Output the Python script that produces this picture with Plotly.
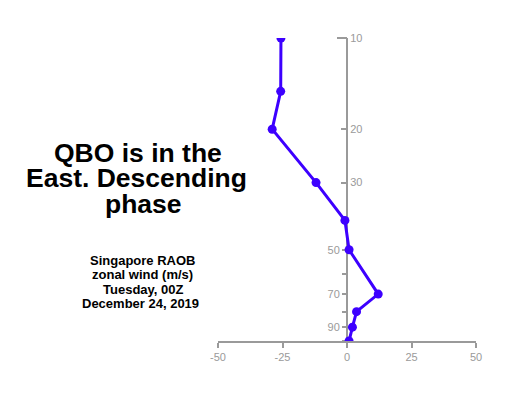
import plotly.graph_objects as go

# Data
pressure_hpa = [10, 15, 20, 30, 40, 50, 70, 80, 90, 100]
zonal_wind = [-25.6, -25.7, -29.0, -12.0, -0.8, 0.8, 12.1, 3.7, 2.1, 0.8]

x_ticks = [-50, -25, 0, 25, 50]
x_tick_text = ["-50", "-25", "0", "25", "50"]
y_ticks_right = [10, 20, 30]
y_ticks_left = [40, 50, 60, 70, 80, 90, 100]
y_ticks_left_text = ["", "50", "", "70", "", "90", ""]

title_lines = ["QBO is in the", "East. Descending", "phase"]
subtitle_lines = ["Singapore RAOB", "zonal wind (m/s)", "Tuesday, 00Z", "December 24, 2019"]

GREY = "#9a9a9a"
LINE = "#3d00ff"
FONT = "Liberation Sans, Arial, Helvetica, sans-serif"

fig = go.Figure()
fig.add_trace(go.Scatter(
    x=zonal_wind, y=pressure_hpa, mode="lines+markers",
    line=dict(color=LINE, width=3),
    marker=dict(color=LINE, size=9),
    cliponaxis=True, showlegend=False, hoverinfo="x+y",
))

yrange = [2, 1]  # log10(100) bottom, log10(10) top
common_y = dict(type="log", range=yrange, anchor="free", position=0.5,
                showgrid=False, zeroline=False, automargin=False,
                layer="below traces",
                tickfont=dict(size=11, color=GREY, family=FONT),
                tickcolor=GREY, tickwidth=2)

fig.update_layout(
    width=507, height=399,
    margin=dict(l=210, r=39, t=30, b=66, autoexpand=False),
    paper_bgcolor="white", plot_bgcolor="white",
    font=dict(family=FONT),
    xaxis=dict(range=[-50, 50], tickmode="array", tickvals=x_ticks,
               ticktext=x_tick_text, ticks="outside", ticklen=5,
               tickwidth=2, tickcolor=GREY, showline=True, linecolor=GREY,
               linewidth=2, showgrid=False, zeroline=False, anchor="y",
               automargin=False, layer="below traces",
               tickfont=dict(size=11, color=GREY, family=FONT)),
    yaxis=dict(**common_y, side="right", tickmode="array", tickvals=y_ticks_right,
               ticks="inside", ticklen=5,
               showline=True, linecolor=GREY, linewidth=2),
    yaxis2=dict(**common_y, side="left", overlaying="y", tickmode="array",
                tickvals=y_ticks_left, ticktext=y_ticks_left_text,
                ticks="outside", ticklen=5, showline=False),
    yaxis3=dict(**common_y, side="left", overlaying="y", tickmode="array",
                tickvals=[10], ticktext=[""], ticks="outside", ticklen=10,
                showline=False),
)

# invisible traces so the overlay axes render
fig.add_trace(go.Scatter(x=[None], y=[None], yaxis="y2", showlegend=False))
fig.add_trace(go.Scatter(x=[None], y=[None], yaxis="y3", showlegend=False))

title_x = [-0.310, -0.314, -0.287]
title_y = [0.622, 0.539, 0.452]
for txt, xx, yy in zip(title_lines, title_x, title_y):
    fig.add_annotation(text=txt, xref="paper", yref="paper", x=xx, y=yy,
                       xanchor="center", yanchor="middle", showarrow=False,
                       font=dict(size=26.5, color="black", family=FONT, weight="bold"))

sub_y = [0.267, 0.218, 0.170, 0.124]
sub_x = [-0.292, -0.292, -0.292, -0.300]
for txt, xx, yy in zip(subtitle_lines, sub_x, sub_y):
    fig.add_annotation(text=txt, xref="paper", yref="paper", x=xx, y=yy,
                       xanchor="center", yanchor="middle", showarrow=False,
                       font=dict(size=13, color="black", family=FONT, weight="bold"))

fig.write_html("out.html")
